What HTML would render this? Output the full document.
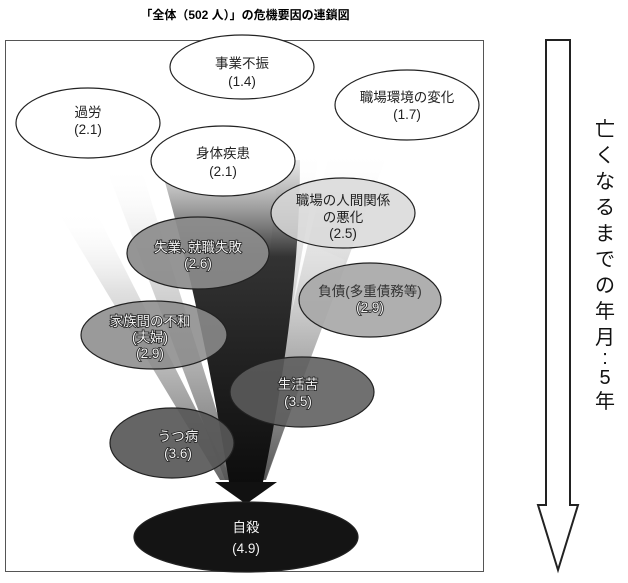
<!DOCTYPE html>
<html><head><meta charset="utf-8"><style>
body{margin:0;background:#fff;}
svg text{font-family:"Liberation Sans","Noto Sans CJK JP",sans-serif;}
</style></head><body>
<svg width="628" height="578" viewBox="0 0 628 578" xmlns="http://www.w3.org/2000/svg">
<defs>
<linearGradient id="ray" x1="0" y1="0" x2="0" y2="1">
<stop offset="0" stop-color="#fff" stop-opacity="0"/>
<stop offset="0.3" stop-color="#ccc" stop-opacity="0.6"/>
<stop offset="1" stop-color="#555" stop-opacity="0.9"/>
</linearGradient>
<linearGradient id="core" x1="0" y1="0" x2="0" y2="1">
<stop offset="0" stop-color="#888" stop-opacity="0.2"/>
<stop offset="0.3" stop-color="#333"/>
<stop offset="1" stop-color="#0d0d0d"/>
</linearGradient>
</defs>
<text x="245" y="19" font-size="12" font-weight="bold" text-anchor="middle">「全体（502 人）」の危機要因の連鎖図</text>
<rect x="5.5" y="40.5" width="478" height="531" fill="#fff" stroke="#555" stroke-width="1"/>
<polygon points="105,165 140,165 238,480 225,480" fill="url(#ray)"/>
<polygon points="60,215 95,210 232,480 220,480" fill="url(#ray)"/>
<polygon points="330,150 385,160 265,480 252,480" fill="url(#ray)"/>
<polygon points="280,150 320,150 262,480 248,480" fill="url(#ray)"/>
<polygon points="300,240 345,260 266,480 255,480" fill="url(#ray)"/>
<path d="M160,165 L300,160 Q300,300 263,482 L229,482 Q200,300 160,165 Z" fill="url(#core)"/>
<polygon points="215,482 277,482 246,504" fill="#111"/>
<g stroke="#222" stroke-width="1.2" fill="#fff">
<ellipse cx="242" cy="67" rx="72" ry="32"/>
<ellipse cx="407" cy="105" rx="72" ry="35"/>
<ellipse cx="88" cy="123" rx="72" ry="35"/>
</g>
<g stroke="#222" stroke-width="1.2">
<ellipse cx="223" cy="161" rx="72" ry="35" fill="#fff"/>
<ellipse cx="343" cy="213" rx="72" ry="35" fill="#d8d8d8" fill-opacity="0.85"/>
<ellipse cx="198" cy="253" rx="71" ry="36" fill="#8c8c8c" fill-opacity="0.92"/>
<ellipse cx="370" cy="300" rx="71" ry="37" fill="#a8a8a8" fill-opacity="0.92"/>
<ellipse cx="154" cy="335" rx="73" ry="34" fill="#8c8c8c" fill-opacity="0.88"/>
<ellipse cx="302" cy="392" rx="72" ry="35" fill="#5c5c5c" fill-opacity="0.88"/>
<ellipse cx="172" cy="443" rx="62" ry="35" fill="#585858" fill-opacity="0.92"/>
<ellipse cx="246" cy="537" rx="112" ry="35" fill="#141414"/>
</g>
<g font-size="13.5" text-anchor="middle" fill="#222">
<text x="242" y="68">事業不振</text><text x="242" y="86">(1.4)</text>
<text x="407" y="102">職場環境の変化</text><text x="407" y="119">(1.7)</text>
<text x="88" y="117">過労</text><text x="88" y="134">(2.1)</text>
<text x="223" y="158">身体疾患</text><text x="223" y="176">(2.1)</text>
<text x="343" y="205">職場の人間関係</text><text x="343" y="222">の悪化</text><text x="343" y="238">(2.5)</text>
</g>
<g font-size="13.5" text-anchor="middle" fill="#f2f2f2" stroke="#222" stroke-width="1.6" paint-order="stroke">
<text x="198" y="252">失業､就職失敗</text><text x="198" y="268">(2.6)</text>
<text x="370" y="296" fill="#333" stroke="none">負債(多重債務等)</text><text x="370" y="312">(2.9)</text>
<text x="150" y="326">家族間の不和</text><text x="150" y="342">(夫婦)</text><text x="150" y="358">(2.9)</text>
<text x="298" y="389">生活苦</text><text x="298" y="406">(3.5)</text>
<text x="178" y="441">うつ病</text><text x="178" y="458">(3.6)</text>
<text x="246" y="532" stroke="none">自殺</text><text x="246" y="553" stroke="none">(4.9)</text>
</g>
<polygon points="546,40 570,40 570,505 578,505 558,570 538,505 546,505" fill="#fff" stroke="#222" stroke-width="2"/>
<g font-size="20" text-anchor="middle" fill="#111">
<text x="605" y="136">亡</text><text x="605" y="162">く</text><text x="605" y="188">な</text><text x="605" y="214">る</text><text x="605" y="240">ま</text><text x="605" y="266">で</text><text x="605" y="292">の</text><text x="605" y="318">年</text><text x="605" y="344">月</text><text x="605" y="364">:</text><text x="605" y="384">5</text><text x="605" y="408">年</text>
</g>
</svg>
</body></html>
